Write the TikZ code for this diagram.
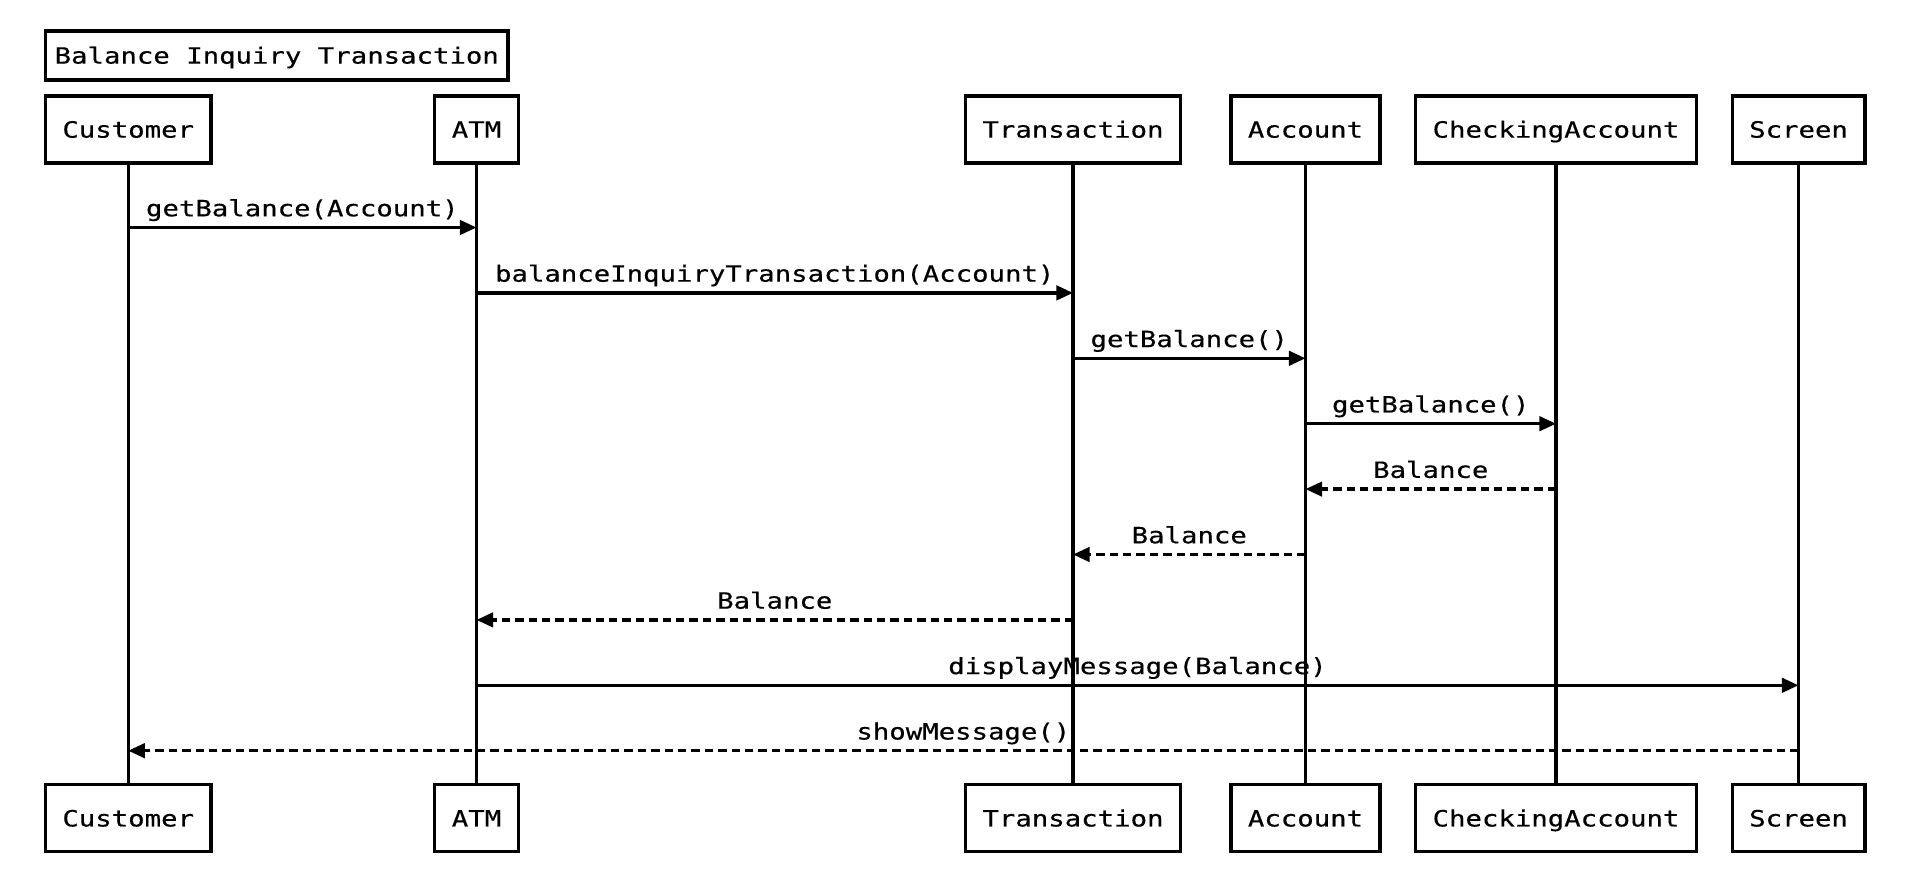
\documentclass[tikz,border=0pt]{standalone}
\usepackage{fontspec}
\newfontfamily\diagfont{DejaVu Sans Mono}[FakeStretch=1.22, FakeBold=0.4]
\usetikzlibrary{arrows.meta}
\begin{document}
\begin{tikzpicture}[x=0.5pt, y=-0.5pt,
  every node/.style={font=\diagfont\fontsize{11.2pt}{13pt}\selectfont},
  obj/.style={draw, line width=1.65pt, minimum height=33.5pt, inner xsep=8.5pt, inner ysep=0pt, text height=8.15pt, text depth=0pt},
  life/.style={line width=1.65pt},
  call/.style={line width=1.65pt, -{Triangle[length=8.3pt,width=7.2pt]}},
  reply/.style={call, dash pattern=on 4.2pt off 2.5pt},
  lbl/.style={anchor=base, yshift=5.6pt, inner sep=0pt}]
\fill[white] (0,0) rectangle (1914,892);
\path[use as bounding box] (0,0) rectangle (1914,892);
\node[obj, anchor=west, inner xsep=4.5pt, minimum height=24.5pt] (title) at (44,55.5) {Balance Inquiry Transaction};
% top objects
\node[obj] (cust) at (128.2,129.5) {Customer};
\node[obj] (atm) at (476.5,129.5) {ATM};
\node[obj] (trans) at (1073,129.5) {Transaction};
\node[obj] (acct) at (1305.5,129.5) {Account};
\node[obj] (chk) at (1556,129.5) {CheckingAccount};
\node[obj] (scr) at (1798.5,129.5) {Screen};
% bottom objects
\node[obj] (cust2) at (128.2,818.3) {Customer};
\node[obj] (atm2) at (476.5,818.3) {ATM};
\node[obj] (trans2) at (1073,818.3) {Transaction};
\node[obj] (acct2) at (1305.5,818.3) {Account};
\node[obj] (chk2) at (1556,818.3) {CheckingAccount};
\node[obj] (scr2) at (1798.5,818.3) {Screen};
% lifelines
\draw[life] (cust) -- (cust2);
\draw[life] (atm) -- (atm2);
\draw[life] (trans) -- (trans2);
\draw[life] (acct) -- (acct2);
\draw[life] (chk) -- (chk2);
\draw[life] (scr) -- (scr2);
% message rows
\coordinate (r1) at (0,227.5);
\coordinate (r2) at (0,292.9);
\coordinate (r3) at (0,358.3);
\coordinate (r4) at (0,423.7);
\coordinate (r5) at (0,489.1);
\coordinate (r6) at (0,554.5);
\coordinate (r7) at (0,619.9);
\coordinate (r8) at (0,685.3);
\coordinate (r9) at (0,750.7);
% messages
\draw[call] (cust |- r1) -- node[lbl]{getBalance(Account)} (atm |- r1);
\draw[call] (atm |- r2) -- node[lbl]{balanceInquiryTransaction(Account)} (trans |- r2);
\draw[call] (trans |- r3) -- node[lbl]{getBalance()} (acct |- r3);
\draw[call] (acct |- r4) -- node[lbl]{getBalance()} (chk |- r4);
\draw[reply] (chk |- r5) -- node[lbl]{Balance} (acct |- r5);
\draw[reply] (acct |- r6) -- node[lbl]{Balance} (trans |- r6);
\draw[reply] (trans |- r7) -- node[lbl]{Balance} (atm |- r7);
\draw[call] (atm |- r8) -- node[lbl]{displayMessage(Balance)} (scr |- r8);
\draw[reply] (scr |- r9) -- node[lbl]{showMessage()} (cust |- r9);
\end{tikzpicture}
\end{document}
